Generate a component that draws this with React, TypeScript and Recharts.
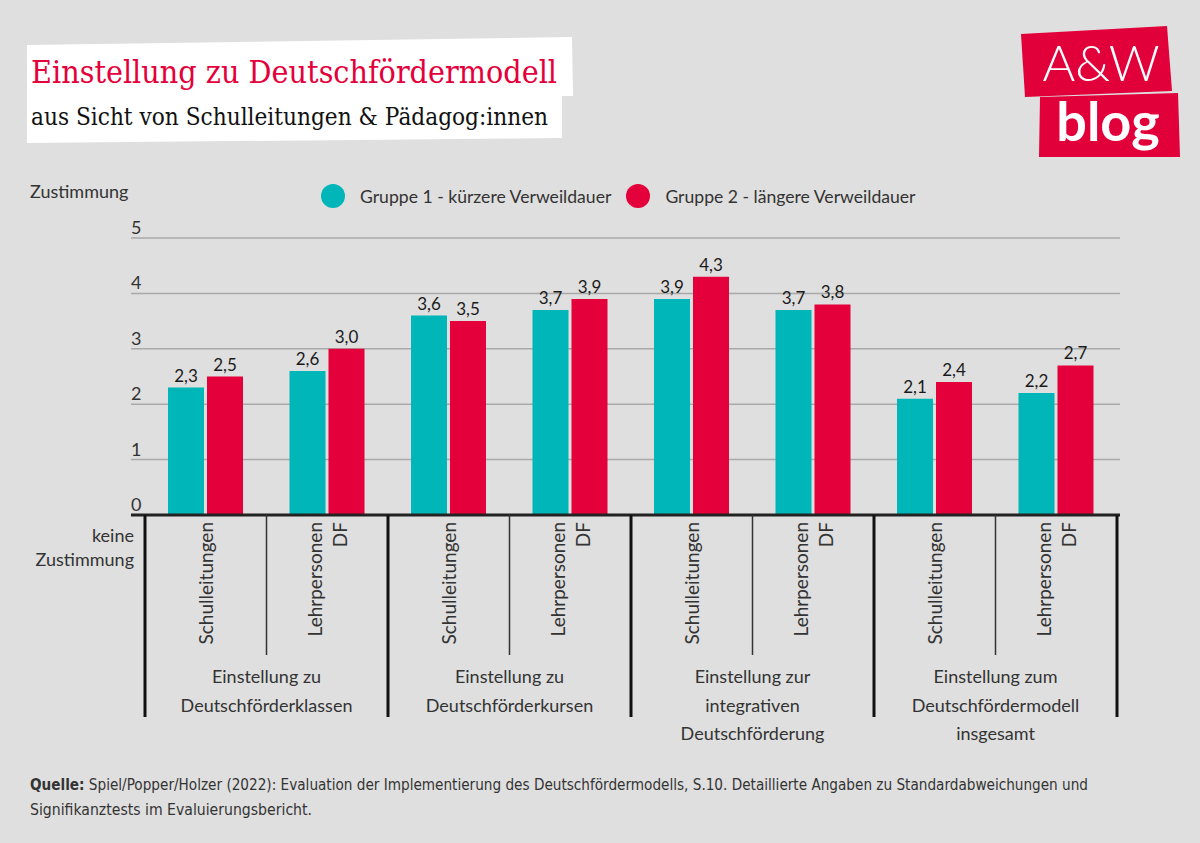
import React from "react";
import {
  BarChart,
  Bar,
  XAxis,
  YAxis,
  CartesianGrid,
  ReferenceLine,
  LabelList,
  Legend,
} from "recharts";

// --- data ---
const groups = [
  ["Einstellung zu", "Deutschförderklassen"],
  ["Einstellung zu", "Deutschförderkursen"],
  ["Einstellung zur", "integrativen", "Deutschförderung"],
  ["Einstellung zum", "Deutschfördermodell", "insgesamt"],
];
const categories = [
  "Schulleitungen",
  "Lehrpersonen DF",
  "Schulleitungen",
  "Lehrpersonen DF",
  "Schulleitungen",
  "Lehrpersonen DF",
  "Schulleitungen",
  "Lehrpersonen DF",
];
const gruppe1 = [2.3, 2.6, 3.6, 3.7, 3.9, 3.7, 2.1, 2.2];
const gruppe2 = [2.5, 3.0, 3.5, 3.9, 4.3, 3.8, 2.4, 2.7];
const yTicks = [0, 1, 2, 3, 4, 5];

const TEAL = "#00b6b8";
const RED = "#e4003b";
const BG = "#dfdfdf";
const TEXT = "#333333";
const FONT = "Lato, 'Open Sans', sans-serif";

const W = 1200;
const H = 843;
const PLOT_LEFT = 131;
const PLOT_RIGHT = 1120;
const PLOT_TOP = 238;
const PLOT_BOTTOM = 515;
const PAD_L = 14;
const PAD_R = 3;
const BAND = (PLOT_RIGHT - PLOT_LEFT - PAD_L - PAD_R) / categories.length;

const data = categories.map((c, i) => ({
  key: `${i}|${c}`,
  g1: gruppe1[i],
  g2: gruppe2[i],
}));

const fmt = (v: any) => Number(v).toFixed(1).replace(".", ",");

const YTick = (props: any) => {
  const { y, payload } = props;
  return (
    <text x={PLOT_LEFT} y={y - 11} fontSize={18} fill={TEXT} fontFamily={FONT} dominantBaseline="central">
      {payload.value}
    </text>
  );
};

const XTick = (props: any) => {
  const { x, payload } = props;
  const [idxStr, label] = String(payload.value).split("|");
  const i = Number(idxStr);
  const words = label.split(" ");
  const top = PLOT_BOTTOM + 7;
  const left = x - BAND / 2;
  const isGroupStart = i % 2 === 0;
  const lineGap = 25;
  const startOff = -((words.length - 1) * lineGap) / 2;
  return (
    <g>
      {words.map((w, k) => {
        const cx = x + startOff + k * lineGap;
        return (
          <text
            key={k}
            x={cx}
            y={top}
            transform={`rotate(-90 ${cx} ${top})`}
            textAnchor="end"
            dominantBaseline="central"
            fontSize={19}
            fill={TEXT}
            fontFamily={FONT}
          >
            {w}
          </text>
        );
      })}
      {isGroupStart ? (
        <line x1={left} x2={left} y1={PLOT_BOTTOM} y2={717} stroke="#111" strokeWidth={3} />
      ) : (
        <line x1={left} x2={left} y1={PLOT_BOTTOM} y2={655} stroke="#333" strokeWidth={1.5} />
      )}
      {i === categories.length - 1 && (
        <line x1={x + BAND / 2} x2={x + BAND / 2} y1={PLOT_BOTTOM} y2={717} stroke="#111" strokeWidth={3} />
      )}
      {isGroupStart &&
        groups[i / 2].map((t, k) => (
          <text
            key={"g" + k}
            x={x + BAND / 2}
            y={676 + k * 28.5}
            textAnchor="middle"
            dominantBaseline="central"
            fontSize={18}
            fill={TEXT}
            fontFamily={FONT}
          >
            {t}
          </text>
        ))}
    </g>
  );
};

const LegendContent = (props: any) => {
  const { payload } = props;
  return (
    <div style={{ display: "flex", alignItems: "center", fontFamily: FONT, fontSize: 17.6, color: TEXT }}>
      {payload.map((p: any, i: number) => (
        <div key={i} style={{ display: "flex", alignItems: "center", marginRight: 14 }}>
          <svg width={26} height={26} style={{ marginRight: 14 }}>
            <circle cx={13} cy={13} r={12} fill={p.color} />
          </svg>
          <span>{p.value}</span>
        </div>
      ))}
    </div>
  );
};

const Decor = () => (
  <svg width={W} height={H} style={{ position: "absolute", left: 0, top: 0 }}>
    {/* title boxes */}
    <polygon points="27,45 572,37 573,96 27,100" fill="#ffffff" />
    <polygon points="27,96 562,92 562,138 27,143" fill="#ffffff" />
    <text
      x={31}
      y={83}
      fontSize={31}
      fill={RED}
      fontFamily="'DejaVu Serif', serif"
      textLength={526}
      lengthAdjust="spacingAndGlyphs"
    >
      Einstellung zu Deutschfördermodell
    </text>
    <text
      x={31}
      y={125}
      fontSize={24}
      fill="#111"
      fontFamily="'DejaVu Serif', serif"
      textLength={517}
      lengthAdjust="spacingAndGlyphs"
    >
      aus Sicht von Schulleitungen &amp; Pädagog:innen
    </text>
    {/* logo */}
    <polygon points="1021,34 1167,26 1172,91 1025,97" fill="#e2003b" />
    <polygon points="1040,97 1178,93 1180,157 1039,157" fill="#e2003b" />
    <text x={1101} y={81} textAnchor="middle" fontSize={50} fill="#fff" fontFamily="Lato, sans-serif" fontWeight={300}>
      A&amp;W
    </text>
    <text x={1108} y={141} textAnchor="middle" fontSize={54} fill="#fff" fontFamily="Lato, sans-serif" fontWeight={700}>
      blog
    </text>
    {/* axis captions */}
    <text x={30} y={191} fontSize={18} fill={TEXT} fontFamily={FONT} dominantBaseline="central">
      Zustimmung
    </text>
    <text x={134} y={535} fontSize={18} fill={TEXT} fontFamily={FONT} textAnchor="end" dominantBaseline="central">
      keine
    </text>
    <text x={134} y={559} fontSize={18} fill={TEXT} fontFamily={FONT} textAnchor="end" dominantBaseline="central">
      Zustimmung
    </text>
    {/* source */}
    <text
      x={30}
      y={790}
      fontSize={16}
      fill={TEXT}
      fontFamily="'Liberation Sans Narrow', 'DejaVu Sans Condensed', sans-serif"
      textLength={1058}
      lengthAdjust="spacingAndGlyphs"
    >
      <tspan fontWeight={700}>Quelle:</tspan> Spiel/Popper/Holzer (2022): Evaluation der Implementierung des
      Deutschfördermodells, S.10. Detaillierte Angaben zu Standardabweichungen und
    </text>
    <text
      x={30}
      y={815}
      fontSize={16}
      fill={TEXT}
      fontFamily="'Liberation Sans Narrow', 'DejaVu Sans Condensed', sans-serif"
      textLength={282}
      lengthAdjust="spacingAndGlyphs"
    >
      Signifikanztests im Evaluierungsbericht.
    </text>
  </svg>
);

export default function App() {
  return (
    <div style={{ position: "absolute", left: 0, top: 0, width: W, height: H, background: BG, overflow: "hidden" }}>
      <Decor />
      <div style={{ position: "absolute", left: 0, top: 0 }}>
        <BarChart
          width={W}
          height={H}
          data={data}
          margin={{ top: PLOT_TOP, right: W - PLOT_RIGHT, bottom: 0, left: 0 }}
          barSize={36}
          barGap={3}
        >
          <CartesianGrid horizontal vertical={false} stroke="#a9a9a9" strokeWidth={1.5} />
          <YAxis
            domain={[0, 5]}
            ticks={yTicks}
            width={PLOT_LEFT}
            axisLine={false}
            tickLine={false}
            tick={<YTick />}
            interval={0}
          />
          <XAxis
            dataKey="key"
            height={H - PLOT_BOTTOM}
            padding={{ left: PAD_L, right: PAD_R }}
            axisLine={false}
            tickLine={false}
            tick={<XTick />}
            interval={0}
          />
          <Legend
            verticalAlign="middle"
            align="center"
            layout="horizontal"
            content={<LegendContent />}
            wrapperStyle={{ position: "absolute", top: 183, left: 320, width: 700 }}
          />
          <Bar dataKey="g1" name="Gruppe 1 - kürzere Verweildauer" fill={TEAL} isAnimationActive={false}>
            <LabelList dataKey="g1" position="top" offset={6} formatter={fmt} fontSize={17} fill="#1a1a1a" fontFamily={FONT} />
          </Bar>
          <Bar dataKey="g2" name="Gruppe 2 - längere Verweildauer" fill={RED} isAnimationActive={false}>
            <LabelList dataKey="g2" position="top" offset={6} formatter={fmt} fontSize={17} fill="#1a1a1a" fontFamily={FONT} />
          </Bar>
          <ReferenceLine y={0} stroke="#222" strokeWidth={3} />
        </BarChart>
      </div>
    </div>
  );
}
